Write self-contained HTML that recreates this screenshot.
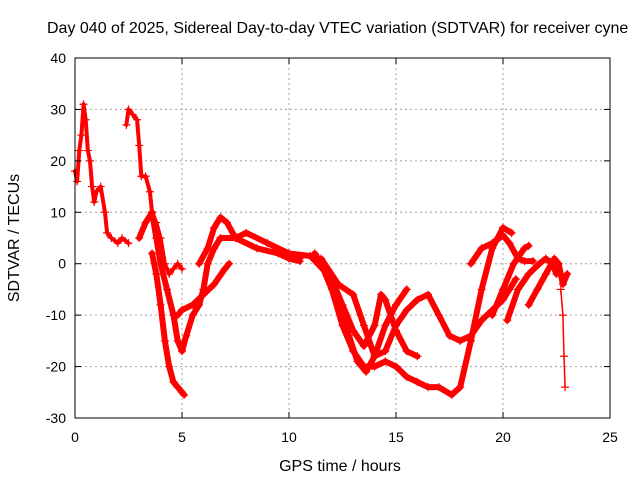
<!DOCTYPE html>
<html><head><meta charset="utf-8"><style>
body{margin:0;background:#fff;width:640px;height:480px;overflow:hidden}
text{font-family:"Liberation Sans",sans-serif;font-size:14px;fill:#000}
.big{font-size:16px}
</style></head><body>
<svg id="chart" width="640" height="480">
<text class="big" x="47" y="33">Day 040 of 2025, Sidereal Day-to-day VTEC variation (SDTVAR) for receiver cyne</text>
<g id="grid"></g><g id="series"></g><g id="axes"></g>
<text class="big" x="340" y="471" text-anchor="middle">GPS time / hours</text>
<text class="big" transform="translate(19,238) rotate(-90)" text-anchor="middle">SDTVAR / TECUs</text>
</svg>
<script>
const xTicks=[0,5,10,15,20,25];
const yTicks=[-30,-20,-10,0,10,20,30,40];
const s1=[[0,18],[0.1,16],[0.2,22],[0.3,25],[0.4,31],[0.5,28],[0.6,22],[0.7,20],[0.8,15],[0.9,12],[1.0,14],[1.2,15],[1.4,10],[1.5,6],[1.7,5],[2.0,4],[2.2,5],[2.5,4]];
const s2=[[2.4,27],[2.5,30],[2.7,29],[2.9,28],[3.0,23],[3.1,17],[3.3,17],[3.5,14],[3.6,10],[3.8,8],[4.0,5],[4.2,0],[4.4,-2],[4.6,-1],[4.8,0],[5.0,-1]];
const s3=[[3.6,2],[3.8,-2],[4.0,-8],[4.2,-15],[4.4,-20],[4.6,-23],[4.8,-24],[5.0,-25],[5.1,-25.5]];
const s4=[[3.0,5],[3.3,8],[3.6,10],[3.8,5],[4.0,0],[4.3,-5],[4.6,-10],[4.8,-15],[5.0,-17],[5.2,-14],[5.5,-10],[5.8,-8],[6.0,-5],[6.2,0],[6.5,3],[6.8,5],[7.5,5],[8.5,3],[9.5,2],[10.0,1],[10.5,0.5]];
const s5=[[4.8,-10],[5.0,-9],[5.5,-8],[6.0,-6],[6.5,-4],[7.0,-1],[7.2,0]];
const s6=[[5.8,0],[6.2,3],[6.5,7],[6.8,9],[7.1,8],[7.5,5],[8,6],[9,4],[10,2],[10.5,1]];
const s7=[[10,2],[11,1.5],[11.5,0],[12,-5],[12.5,-12],[13,-17],[13.5,-20],[14,-20],[14.5,-19],[15,-20],[15.5,-22],[16,-23],[16.5,-24],[17,-24],[17.6,-25.5],[18,-24],[18.5,-15],[19,-5],[19.5,3],[20,7],[20.4,6]];
const s8=[[11,1.5],[11.8,-2],[12.3,-8],[12.8,-14],[13.2,-19],[13.6,-21],[14,-18],[14.5,-12],[15,-8],[15.5,-5]];
const s9=[[11.2,2],[12,-3],[12.5,-8],[13,-13],[13.5,-16],[14,-12],[14.3,-6],[14.5,-7],[15,-13],[15.5,-17],[16,-18]];
const s10=[[11.5,1],[12.3,-4],[13,-6],[13.5,-12],[14,-18],[14.5,-17],[15,-12],[15.5,-9],[16,-7],[16.5,-6],[17,-10],[17.5,-14],[18,-15],[18.5,-14],[19,-11],[19.5,-9],[20,-7],[20.3,-5],[20.6,-3]];
const s11=[[18.5,0],[19,3],[19.5,4],[20,5.5],[20.3,4],[20.7,1],[21,0.5],[21.4,0.5]];
const s12=[[19.5,-10],[20,-5],[20.5,0],[21,3],[21.2,3.5]];
const s13=[[20.2,-11],[20.7,-5],[21.2,-2],[21.7,0],[22,1],[22.3,0],[22.5,-2]];
const s14=[[21.2,-8],[21.6,-5],[22,-2],[22.4,1],[22.6,0],[22.8,-4],[23,-2]];
const s15=[[22.7,-5],[22.8,-10],[22.85,-18],[22.9,-24]];
const allSeries=[s1,s2,s3,s4,s5,s6,s7,s8,s9,s10,s11,s12,s13,s14,s15];
const L=75,R=610,T=58,B=418;
const X=v=>L+(v-0)/(25-0)*(R-L);
const Y=v=>B-(v+30)/70*(B-T);
const NS="http://www.w3.org/2000/svg";
function mk(tag,attrs,parent){const e=document.createElementNS(NS,tag);for(const k in attrs)e.setAttribute(k,attrs[k]);parent.appendChild(e);return e;}
const grid=document.getElementById('grid'),axes=document.getElementById('axes'),ser=document.getElementById('series');
xTicks.forEach(t=>{
 if(t>0&&t<25){const g=mk('line',{x1:X(t),x2:X(t),y1:T,y2:B,stroke:'#a0a0a0','stroke-dasharray':'2,3'},grid);
 
 }
 const tk=mk('line',{x1:X(t),x2:X(t),y1:B,y2:B-6,stroke:'#000'},axes);
 
 
 mk('line',{x1:X(t),x2:X(t),y1:T,y2:T+6,stroke:'#000'},axes);
 const tx=mk('text',{x:X(t),y:B+24,'text-anchor':'middle'},axes);tx.textContent=t;
 
 
});
yTicks.forEach(t=>{
 if(t>-30&&t<40){const g=mk('line',{x1:L,x2:R,y1:Y(t),y2:Y(t),stroke:'#a0a0a0','stroke-dasharray':'2,3'},grid);
 
 }
 const tk=mk('line',{x1:L,x2:L+6,y1:Y(t),y2:Y(t),stroke:'#000'},axes);
 
 
 mk('line',{x1:R,x2:R-6,y1:Y(t),y2:Y(t),stroke:'#000'},axes);
 const tx=mk('text',{x:L-9,y:Y(t)+5,'text-anchor':'end'},axes);tx.textContent=t;
 
 
});
const fr=mk('rect',{x:L,y:T,width:R-L,height:B-T,fill:'none',stroke:'#000'},axes);


allSeries.forEach((s,i)=>{
 const pts=s.map(p=>X(p[0])+','+Y(p[1])).join(' ');
 const pl=mk('polyline',{points:pts,fill:'none',stroke:'#f00','stroke-width':(i===14?1.5:(i<2?4:6)),'stroke-linejoin':'round','stroke-linecap':'round'},ser);
 
 
 s.forEach(p=>{
  const x=X(p[0]),y=Y(p[1]);
  const m=mk('path',{d:`M${x-4} ${y}H${x+4}M${x} ${y-4}V${y+4}`,stroke:'#f00','stroke-width':1.2},ser);
  
  
 });
});
</script>
</body></html>
